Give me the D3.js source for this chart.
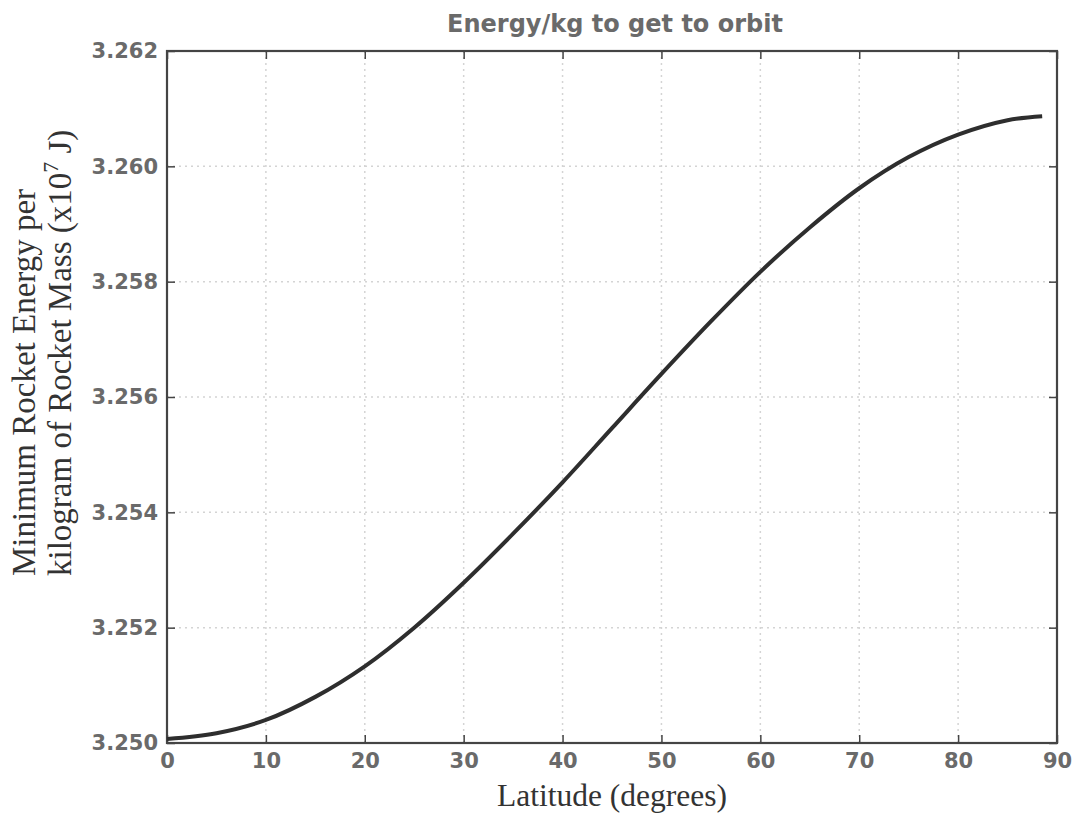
<!DOCTYPE html>
<html>
<head>
<meta charset="utf-8">
<script src="https://cdn.jsdelivr.net/npm/d3@7"></script>
<style>
	body { margin: 0; background: #fff; }
	svg { display: block; }
</style>
</head>
<body>
<svg id="chart" width="1074" height="818"></svg>
<script>
'use strict';

// latitude (degrees) and energy per kg (x10^7 J)
var latitude = [0, 5, 10, 15, 20, 25, 30, 35, 40, 45, 50, 55, 60, 65, 70, 75, 80, 85, 88.5];
var energy = [3.25007, 3.25017, 3.25040, 3.25080, 3.25133, 3.25200, 3.25278, 3.25363, 3.25452,
	3.25546, 3.25640, 3.25731, 3.25817, 3.25894, 3.25962, 3.26016, 3.26055, 3.26080, 3.26087];

var xTicks = [0, 10, 20, 30, 40, 50, 60, 70, 80, 90];
var yTicks = [3.250, 3.252, 3.254, 3.256, 3.258, 3.260, 3.262];

var titleText = 'Energy/kg to get to orbit';
var xLabel = 'Latitude (degrees)';

var margin = { left: 167, right: 17, top: 51, bottom: 75 };
var width = 1074, height = 818;

var svg = d3.select('#chart');

var x = d3.scaleLinear()
	.domain([0, 90])
	.range([margin.left, width - margin.right]);

var y = d3.scaleLinear()
	.domain([3.250, 3.262])
	.range([height - margin.bottom, margin.top]);

var tickColor = '#444';
var labelColor = '#6a6a6a';

// grid
svg.append('g')
	.selectAll('line')
	.data(xTicks.slice(1, -1))
	.enter()
	.append('line')
	.attr('x1', function(d) { return x(d); })
	.attr('x2', function(d) { return x(d); })
	.attr('y1', y.range()[0])
	.attr('y2', y.range()[1])
	.attr('stroke', '#d4d4d4')
	.attr('stroke-width', 1.5)
	.attr('stroke-dasharray', '2,4');

svg.append('g')
	.selectAll('line')
	.data(yTicks.slice(1, -1))
	.enter()
	.append('line')
	.attr('x1', x.range()[0])
	.attr('x2', x.range()[1])
	.attr('y1', function(d) { return y(d); })
	.attr('y2', function(d) { return y(d); })
	.attr('stroke', '#d4d4d4')
	.attr('stroke-width', 1.5)
	.attr('stroke-dasharray', '2,4');

// axes with inward ticks
function styleAxis(g) {
	g.select('.domain').remove();
	g.selectAll('.tick line').attr('stroke', tickColor).attr('stroke-width', 1.5);
	g.selectAll('.tick text')
		.attr('fill', labelColor)
		.style('font-family', 'DejaVu Sans')
		.style('font-weight', 'bold')
		.style('font-size', '21px');
}

svg.append('g')
	.attr('transform', 'translate(0,' + y.range()[0] + ')')
	.call(d3.axisBottom(x).tickValues(xTicks).tickSize(-8).tickPadding(10).tickFormat(d3.format('d')))
	.call(styleAxis);

svg.append('g')
	.attr('transform', 'translate(0,' + y.range()[1] + ')')
	.call(d3.axisTop(x).tickValues(xTicks).tickSize(-8).tickFormat(''))
	.call(styleAxis);

svg.append('g')
	.attr('transform', 'translate(' + x.range()[0] + ',0)')
	.call(d3.axisLeft(y).tickValues(yTicks).tickSize(-8).tickPadding(9).tickFormat(d3.format('.3f')))
	.call(styleAxis);

svg.append('g')
	.attr('transform', 'translate(' + x.range()[1] + ',0)')
	.call(d3.axisRight(y).tickValues(yTicks).tickSize(-8).tickFormat(''))
	.call(styleAxis);

// frame
svg.append('rect')
	.attr('x', x.range()[0])
	.attr('y', y.range()[1])
	.attr('width', x.range()[1] - x.range()[0])
	.attr('height', y.range()[0] - y.range()[1])
	.attr('fill', 'none')
	.attr('stroke', tickColor)
	.attr('stroke-width', 2.2);

// curve
var line = d3.line()
	.x(function(d, i) { return x(latitude[i]); })
	.y(function(d) { return y(d); })
	.curve(d3.curveCatmullRom.alpha(0.5));

svg.append('path')
	.datum(energy)
	.attr('d', line)
	.attr('fill', 'none')
	.attr('stroke', '#2e2e2e')
	.attr('stroke-width', 4)
	.attr('stroke-linecap', 'butt');

// title
svg.append('text')
	.attr('x', 615)
	.attr('y', 32)
	.attr('text-anchor', 'middle')
	.attr('fill', labelColor)
	.style('font-family', 'DejaVu Sans')
	.style('font-weight', 'bold')
	.style('font-size', '24px')
	.text(titleText);

// x label
svg.append('text')
	.attr('x', 612)
	.attr('y', 806)
	.attr('text-anchor', 'middle')
	.attr('fill', '#333')
	.style('font-family', 'Liberation Serif')
	.style('font-size', '31.5px')
	.text(xLabel);

// y label, two lines, left aligned
var yLab = svg.append('text')
	.attr('transform', 'translate(35,576) rotate(-90)')
	.attr('text-anchor', 'start')
	.attr('fill', '#333')
	.style('font-family', 'Liberation Serif')
	.style('font-size', '33px');

yLab.append('tspan')
	.attr('x', 0)
	.attr('dy', 0)
	.text('Minimum Rocket Energy per');

var line2 = yLab.append('tspan')
	.attr('x', 0)
	.attr('dy', 36);
line2.append('tspan').text('kilogram of Rocket Mass (x10');
line2.append('tspan').attr('dy', -13).style('font-size', '22px').text('7');
line2.append('tspan').attr('dy', 13).text(' J)');
</script>
</body>
</html>
